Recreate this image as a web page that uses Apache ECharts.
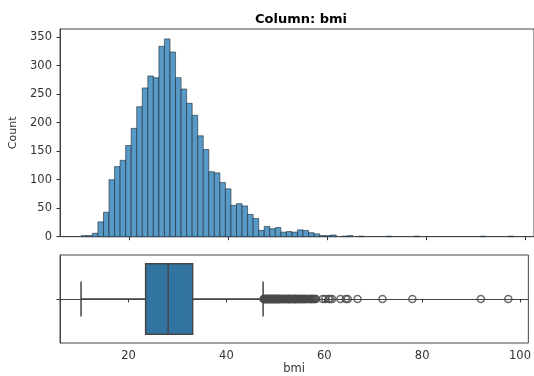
<!DOCTYPE html>
<html>
<head>
<meta charset="utf-8">
<script src="https://cdn.jsdelivr.net/npm/echarts@6/dist/echarts.min.js"></script>
<style>
html,body{margin:0;padding:0;background:#fff;}
#chart{width:534px;height:376px;}
</style>
</head>
<body>
<div id="chart"></div>
<script>
// ---- data ----
var binStart = 10.3;
var binWidth = 1.1192;
var binCounts = [2, 2, 6, 26, 43, 100, 123, 134, 160, 190, 228, 261, 282, 279, 334, 347, 324, 279, 259, 234,
  213, 177, 153, 114, 112, 95, 84, 55, 58, 54, 39, 32, 11, 18, 14, 16, 8, 9, 8, 12,
  11, 7, 5, 2, 2, 3, 0, 1, 2, 0, 1, 0, 0, 0, 0, 1, 0, 0, 0, 0,
  1, 0, 0, 0, 0, 0, 0, 0, 0, 0, 0, 0, 1, 0, 0, 0, 0, 1];
var boxStats = [10.3, 23.5, 28.1, 33.1, 47.5]; // whiskerLow, Q1, median, Q3, whiskerHigh
var outliers = [47.6, 47.7, 47.8, 47.9, 48.0, 48.1, 48.2, 48.3, 48.4, 48.5, 48.6, 48.7, 48.8, 48.9, 49.0,
  49.1, 49.2, 49.3, 49.4, 49.5, 49.6, 49.7, 49.8, 49.9, 50.0, 50.1, 50.2, 50.3, 50.4, 50.5, 50.6, 50.7,
  50.8, 50.9, 51.0, 51.1, 51.3, 51.5, 51.7, 51.8, 51.9, 52.0, 52.1, 52.3, 52.5, 52.6, 52.7, 52.8, 52.9,
  53.1, 53.2, 53.4, 53.5, 53.7, 53.8, 53.9, 54.0, 54.1, 54.2, 54.3, 54.5, 54.6, 54.7, 55.0, 55.1, 55.2,
  55.3, 55.5, 55.7, 55.9, 56.0, 56.1, 56.3, 56.6, 56.8, 57.0, 57.2, 57.3, 57.5, 57.7, 57.9, 58.1, 58.3,
  59.7, 60.2, 60.9, 61.2, 61.6, 63.3, 64.4, 64.8, 66.8, 71.9, 78.0, 92.0, 97.6];
var xTicks = [20, 40, 60, 80, 100];
var yTicks = [0, 50, 100, 150, 200, 250, 300, 350];

// ---- build ----
var histData = binCounts.map(function (c, i) {
  return [binStart + i * binWidth, binStart + (i + 1) * binWidth, c];
});
var outlierData = outliers.map(function (v) { return [v, 0]; });

var axisColor = '#333';
var labelStyle = { color: '#333', fontSize: 11.5, fontFamily: 'DejaVu Sans' };

var chart = echarts.init(document.getElementById('chart'), null, { renderer: 'canvas' });
chart.setOption({
  animation: false,
  backgroundColor: '#fff',
  title: {
    text: 'Column: bmi', left: 296, top: 8, textAlign: 'center',
    textStyle: { fontSize: 13, fontWeight: 'bold', color: '#000', fontFamily: 'DejaVu Sans' }
  },
  grid: [
    { left: 60, top: 29, width: 474, height: 207.7, show: true, borderColor: '#444', borderWidth: 1, backgroundColor: 'transparent' },
    { left: 60, top: 255, width: 474, height: 89.3, show: true, borderColor: '#444', borderWidth: 1, backgroundColor: 'transparent' }
  ],
  xAxis: [
    {
      type: 'value', gridIndex: 0, min: 6.0, max: 101.7,
      axisLine: { show: true, lineStyle: { color: '#444' } },
      axisTick: { show: true, length: 3.5, lineStyle: { color: axisColor }, customValues: xTicks },
      axisLabel: { show: false, customValues: xTicks },
      splitLine: { show: false }
    },
    {
      type: 'value', gridIndex: 1, min: 6.0, max: 101.7,
      name: 'bmi', nameLocation: 'middle', nameGap: 20,
      nameTextStyle: { color: '#333', fontSize: 11.5, fontFamily: 'DejaVu Sans' },
      axisLine: { show: true, lineStyle: { color: '#444' } },
      axisTick: { show: true, length: 3.5, lineStyle: { color: axisColor }, customValues: xTicks },
      axisLabel: Object.assign({ margin: 7, customValues: xTicks }, labelStyle),
      splitLine: { show: false }
    }
  ],
  yAxis: [
    {
      type: 'value', gridIndex: 0, min: 0, max: 364.4,
      name: 'Count', nameLocation: 'middle', nameGap: 41,
      nameTextStyle: { color: '#333', fontSize: 11, fontFamily: 'DejaVu Sans' },
      axisLine: { show: true, lineStyle: { color: '#444' } },
      axisTick: { show: true, length: 3.5, lineStyle: { color: axisColor }, customValues: yTicks },
      axisLabel: Object.assign({ margin: 8, customValues: yTicks }, labelStyle),
      splitLine: { show: false }
    },
    {
      type: 'value', gridIndex: 1, min: -0.5, max: 0.5,
      axisLine: { show: true, lineStyle: { color: '#444' } },
      axisTick: { show: true, length: 3.5, lineStyle: { color: axisColor }, customValues: [0] },
      axisLabel: { show: false },
      splitLine: { show: false }
    }
  ],
  series: [
    {
      type: 'custom', xAxisIndex: 0, yAxisIndex: 0,
      data: histData,
      renderItem: function (params, api) {
        var p0 = api.coord([api.value(0), api.value(2)]);
        var p1 = api.coord([api.value(1), 0]);
        if (api.value(2) <= 0) return null;
        return {
          type: 'rect',
          shape: { x: p0[0], y: p0[1], width: p1[0] - p0[0], height: p1[1] - p0[1] },
          style: { fill: 'rgb(87,153,199)', stroke: 'rgba(30,40,50,0.75)', lineWidth: 0.8 }
        };
      }
    },
    {
      type: 'custom', xAxisIndex: 1, yAxisIndex: 1,
      data: [boxStats],
      renderItem: function (params, api) {
        var lo = api.value(0), q1 = api.value(1), med = api.value(2), q3 = api.value(3), hi = api.value(4);
        var c = function (x, y) { return api.coord([x, y]); };
        var lineCol = '#454545';
        var ls = { stroke: lineCol, lineWidth: 1.5 };
        var a = c(q1, 0.4), b = c(q3, -0.4);
        return {
          type: 'group',
          children: [
            { type: 'line', shape: { x1: c(lo, 0)[0], y1: c(lo, 0)[1], x2: c(q1, 0)[0], y2: c(q1, 0)[1] }, style: ls },
            { type: 'line', shape: { x1: c(q3, 0)[0], y1: c(q3, 0)[1], x2: c(hi, 0)[0], y2: c(hi, 0)[1] }, style: ls },
            { type: 'line', shape: { x1: c(lo, 0.2)[0], y1: c(lo, 0.2)[1], x2: c(lo, -0.2)[0], y2: c(lo, -0.2)[1] }, style: ls },
            { type: 'line', shape: { x1: c(hi, 0.2)[0], y1: c(hi, 0.2)[1], x2: c(hi, -0.2)[0], y2: c(hi, -0.2)[1] }, style: ls },
            { type: 'rect', shape: { x: a[0], y: a[1], width: b[0] - a[0], height: b[1] - a[1] },
              style: { fill: '#3274a1', stroke: lineCol, lineWidth: 1.5 } },
            { type: 'line', shape: { x1: c(med, 0.4)[0], y1: c(med, 0.4)[1], x2: c(med, -0.4)[0], y2: c(med, -0.4)[1] }, style: ls }
          ]
        };
      }
    },
    {
      type: 'scatter', xAxisIndex: 1, yAxisIndex: 1,
      data: outlierData,
      symbol: 'circle', symbolSize: 7,
      itemStyle: { color: 'rgba(0,0,0,0)', borderColor: '#4a4a4a', borderWidth: 1.6 },
      silent: true
    }
  ]
});
</script>
</body>
</html>
